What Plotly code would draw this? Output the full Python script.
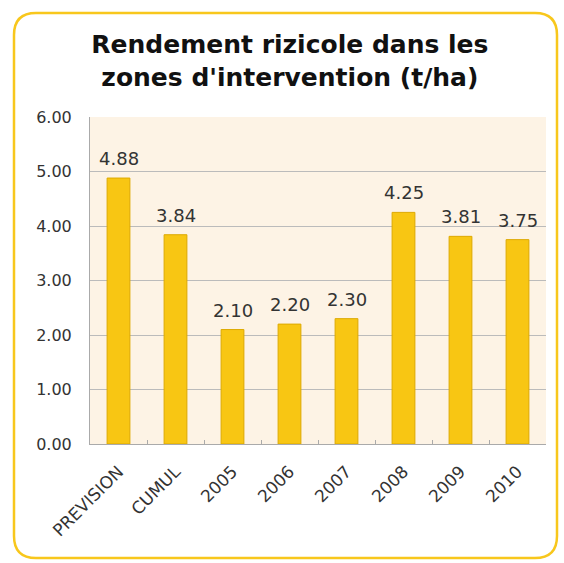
import plotly.graph_objects as go

categories = ["PREVISION", "CUMUL", "2005", "2006", "2007", "2008", "2009", "2010"]
values = [4.88, 3.84, 2.10, 2.20, 2.30, 4.25, 3.81, 3.75]
labels = ["4.88", "3.84", "2.10", "2.20", "2.30", "4.25", "3.81", "3.75"]
y_ticks = [0, 1, 2, 3, 4, 5, 6]
y_tick_text = ["0.00", "1.00", "2.00", "3.00", "4.00", "5.00", "6.00"]

W, H = 564, 563
L, R, T, B = 90, 18, 117, 119
pw, ph = W - L - R, H - T - B
FONT = "DejaVu Sans"

def px(x):
    return (x - L) / pw

def py(y):
    return (H - B - y) / ph

fig = go.Figure()
fig.add_trace(go.Bar(
    x=categories, y=values,
    marker=dict(color="#F8C613", line=dict(color="#DDA900", width=1)),
    width=0.4,
))

for i, (v, t) in enumerate(zip(values, labels)):
    fig.add_annotation(x=i, y=v, text=t, showarrow=False, xanchor="center",
                       yanchor="bottom", yshift=7,
                       font=dict(size=18, color="#333333", family=FONT))

# rounded frame
x0, x1, y0, y1, r = 14, 557, 13, 558, 22
path = (f"M {px(x0+r)},{py(y0)} L {px(x1-r)},{py(y0)} "
        f"Q {px(x1)},{py(y0)} {px(x1)},{py(y0+r)} "
        f"L {px(x1)},{py(y1-r)} Q {px(x1)},{py(y1)} {px(x1-r)},{py(y1)} "
        f"L {px(x0+r)},{py(y1)} Q {px(x0)},{py(y1)} {px(x0)},{py(y1-r)} "
        f"L {px(x0)},{py(y0+r)} Q {px(x0)},{py(y0)} {px(x0+r)},{py(y0)} Z")
fig.add_shape(type="path", path=path, xref="paper", yref="paper",
              line=dict(color="#F8C71C", width=2.5), layer="below")

fig.update_layout(
    width=W, height=H,
    margin=dict(l=L, r=R, t=T, b=B),
    paper_bgcolor="white",
    plot_bgcolor="#FDF3E5",
    showlegend=False,
    bargap=0.6,
    title=dict(
        text="<b>Rendement rizicole dans les<br>zones d'intervention (t/ha)</b>",
        x=0.514, xref="container", xanchor="center",
        y=0.905, yref="container", yanchor="bottom",
        font=dict(size=25, color="#111111", family=FONT),
    ),
    font=dict(family=FONT, color="#333333"),
)
fig.update_xaxes(
    type="category", categoryorder="array", categoryarray=categories,
    range=[-0.5, len(categories) - 0.5],
    tickangle=-45, tickfont=dict(size=17, color="#333333"),
    showline=True, linecolor="#AAAAAA", linewidth=1,
    ticks="inside", tickson="boundaries", ticklen=4, tickcolor="#AAAAAA",
    showgrid=False, automargin=False, ticklabelstandoff=10,
)
fig.update_yaxes(
    range=[0, 6], tickvals=y_ticks, ticktext=y_tick_text,
    tickfont=dict(size=16, color="#333333"),
    showline=True, linecolor="#AAAAAA", linewidth=1,
    showgrid=True, gridcolor="#BBBBBB", gridwidth=1,
    ticks="", ticklabelstandoff=14, zeroline=False, automargin=False,
)

fig.write_html("out.html", config={"displayModeBar": False},
               post_script="document.body.style.margin='0';")
